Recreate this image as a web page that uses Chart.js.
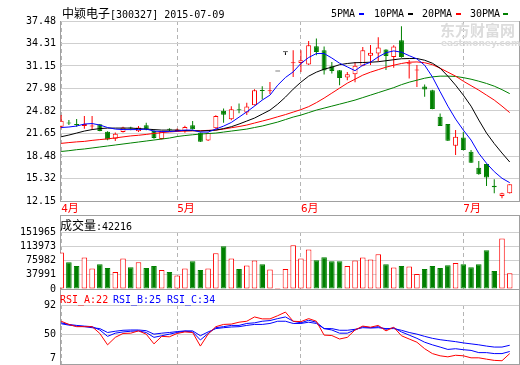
<!DOCTYPE html>
<html>
<head>
<meta charset="utf-8">
<script src="https://cdn.jsdelivr.net/npm/chart.js@4"></script>
<style>
  body { margin: 0; background: #fff; width: 520px; height: 365px; overflow: hidden; position: relative;
         font-family: "DejaVu Sans Mono", monospace; }
  canvas { position: absolute; left: 0; }
  .t { position: absolute; white-space: nowrap; font-size: 10px; line-height: 12px; color: #000; }
  .cn { font-family: "Noto Sans CJK SC", sans-serif; font-size: 12px; }
  .dash { position: absolute; width: 5px; height: 2px; top: 13px; }
  .frame { position: absolute; left: 60px; width: 460px; box-sizing: border-box;
           border: 1px solid #a0a0a0; border-bottom: none; }
  .wm { position: absolute; color: #dcdcdc; white-space: nowrap; font-weight: bold; }
</style>
</head>
<body>
<canvas id="main" width="520" height="216" style="top:0"></canvas>
<canvas id="vol" width="520" height="80" style="top:215px"></canvas>
<canvas id="rsi" width="520" height="76" style="top:289px"></canvas>

<div class="frame" style="top:215px;height:17px"></div>
<div class="frame" style="top:289px;height:16px"></div>

<div class="wm" style="left:440px;top:21px;font-family:'Noto Sans CJK SC';font-size:15px;line-height:17px">东方财富网</div>
<div class="wm" style="left:441px;top:38px;font-family:'DejaVu Sans';font-size:9px;line-height:10px">eastmoney.com</div>

<div class="t" style="left:62px;top:7px"><span class="cn">中颖电子</span>[300327] 2015-07-09</div>
<div class="t" style="left:331px;top:8px">5PMA</div><div class="dash" style="left:359px;background:#0000ff"></div>
<div class="t" style="left:374px;top:8px">10PMA</div><div class="dash" style="left:408px;background:#000"></div>
<div class="t" style="left:422px;top:8px">20PMA</div><div class="dash" style="left:456px;background:#ff0000"></div>
<div class="t" style="left:470px;top:8px">30PMA</div><div class="dash" style="left:503px;background:#008000"></div>

<div class="t" style="left:60px;top:219px"><span class="cn">成交量</span>:42216</div>
<div class="t" style="left:60px;top:294px;color:#ff0000">RSI_A:22</div>
<div class="t" style="left:113px;top:294px;color:#0000ff">RSI_B:25</div>
<div class="t" style="left:167px;top:294px;color:#0000ff">RSI_C:34</div>

<script>
// month markers (index of first bar in each month)
var months = ['4月', '5月', '6月', '7月'];
var monthStart = [0, 15, 31, 52];

// tick labels
var priceTicks = [12.15, 15.32, 18.48, 21.65, 24.82, 27.98, 31.15, 34.31, 37.48];
var volTicks = [0, 37991, 75982, 113973, 151965];
var rsiTicks = [7, 50, 92];

// daily candles
var open = [22.60, 23.10, 22.88, 22.70, 22.65, 22.95, 21.90, 20.90, 21.85, 22.40,
            21.95, 22.80, 21.99, 20.87, 22.22, 21.92, 21.95, 22.80, 21.75, 20.68,
            22.37, 24.85, 23.64, 24.96, 24.60, 25.64, 27.70, 27.58, 30.38, 33.10,
            31.55, 31.58, 31.36, 33.93, 33.37, 31.12, 30.56, 29.53, 29.99, 31.19,
            32.60, 32.90, 33.46, 32.43, 34.77, 31.40, 30.50, 28.25, 27.75, 24.00,
            22.98, 19.93, 21.10, 19.09, 16.84, 17.36, 14.31, 12.87, 13.25];
var high = [24.24, 23.54, 23.70, 24.10, 24.10, 23.00, 21.95, 21.80, 22.60, 22.60,
            22.70, 23.16, 22.10, 21.95, 22.40, 22.35, 22.75, 23.40, 21.80, 21.80,
            24.20, 25.18, 25.50, 25.88, 25.97, 27.89, 28.30, 28.90, 30.38, 33.10,
            33.37, 33.37, 34.67, 35.00, 33.90, 31.72, 30.60, 30.32, 31.70, 33.83,
            34.10, 35.20, 33.50, 34.07, 36.73, 32.00, 31.30, 28.55, 27.80, 24.48,
            23.00, 22.14, 21.90, 19.33, 17.78, 17.40, 15.21, 13.30, 14.50];
var low = [22.40, 22.84, 22.60, 22.30, 22.20, 21.95, 20.70, 20.60, 21.80, 22.10,
           21.85, 22.10, 20.90, 20.80, 21.90, 21.85, 21.75, 22.20, 20.45, 20.60,
           22.30, 23.16, 23.50, 24.50, 24.24, 25.60, 26.44, 27.20, 30.38, 32.70,
           29.60, 30.30, 31.30, 32.66, 29.95, 30.09, 28.45, 29.15, 28.85, 31.10,
           31.30, 31.80, 30.60, 30.90, 32.30, 29.40, 28.20, 26.81, 25.05, 22.70,
           20.60, 18.62, 19.30, 17.50, 15.85, 14.27, 13.25, 12.55, 13.20];
var close = [23.44, 23.05, 22.84, 22.98, 22.72, 22.00, 20.80, 21.60, 22.48, 22.34,
             22.50, 22.22, 21.02, 21.90, 22.18, 22.20, 22.55, 22.25, 20.50, 21.72,
             24.10, 24.30, 25.06, 24.92, 25.45, 27.75, 27.62, 27.62, 30.38, 33.10,
             31.60, 31.96, 34.07, 33.13, 30.50, 30.44, 29.46, 29.99, 31.19, 33.37,
             33.02, 33.74, 32.55, 33.88, 32.43, 31.45, 30.56, 27.85, 25.10, 22.72,
             20.63, 21.19, 19.33, 17.55, 15.91, 15.44, 14.09, 13.25, 14.50];

// moving averages
var ma5 = [22.49, 22.56, 22.70, 22.98, 23.05, 22.84, 22.49, 22.27, 22.20, 22.20,
           22.20, 22.27, 21.99, 21.92, 21.92, 21.99, 22.13, 22.13, 21.85, 21.85,
           22.27, 22.69, 23.20, 23.95, 24.70, 25.50, 26.35, 27.05, 28.45, 29.53,
           30.32, 31.50, 32.34, 32.90, 32.90, 32.27, 31.54, 31.02, 30.49, 31.26,
           31.68, 32.43, 33.02, 33.27, 33.09, 32.60, 32.15, 31.26, 29.62, 27.54,
           25.50, 23.68, 22.13, 20.73, 18.86, 17.46, 16.28, 15.35, 14.73];
var ma10 = [21.19, 21.43, 21.71, 21.99, 22.20, 22.34, 22.41, 22.41, 22.41, 22.41,
            22.34, 22.27, 22.20, 22.13, 22.13, 22.13, 22.06, 22.06, 21.99, 22.06,
            22.13, 22.34, 22.60, 22.98, 23.40, 23.82, 24.38, 24.94, 25.78, 26.77,
            27.89, 28.87, 29.72, 30.28, 30.70, 30.98, 31.33, 31.50, 31.61, 31.64,
            31.68, 31.75, 31.89, 32.03, 32.17, 32.20, 32.20, 31.96, 31.54, 30.84,
            29.72, 28.45, 27.05, 25.50, 23.54, 21.71, 20.23, 18.90, 17.64];
var ma20 = [20.26, 20.37, 20.47, 20.54, 20.68, 20.79, 20.89, 21.03, 21.17, 21.31,
            21.40, 21.52, 21.66, 21.77, 21.87, 21.94, 21.99, 22.02, 22.04, 22.09,
            22.13, 22.27, 22.46, 22.63, 22.84, 23.12, 23.40, 23.68, 24.00, 24.31,
            24.66, 25.01, 25.43, 25.99, 26.63, 27.33, 28.03, 28.73, 29.29, 29.86,
            30.28, 30.63, 30.98, 31.26, 31.50, 31.68, 31.72, 31.61, 31.33, 30.84,
            30.28, 29.72, 29.01, 28.38, 27.75, 27.05, 26.35, 25.50, 24.59];
var ma30 = [19.12, 19.23, 19.37, 19.47, 19.61, 19.75, 19.89, 20.03, 20.17, 20.31,
            20.45, 20.59, 20.73, 20.87, 21.01, 21.22, 21.36, 21.47, 21.57, 21.64,
            21.71, 21.85, 21.99, 22.13, 22.27, 22.49, 22.70, 22.98, 23.26, 23.61,
            23.96, 24.24, 24.59, 24.94, 25.22, 25.50, 25.78, 26.06, 26.35, 26.70,
            27.05, 27.40, 27.75, 28.10, 28.52, 28.87, 29.15, 29.43, 29.62, 29.72,
            29.72, 29.68, 29.51, 29.29, 29.01, 28.69, 28.31, 27.82, 27.26];

// volume
var volume = [97200, 71600, 61000, 84000, 54800, 66300, 55700, 45100, 81300, 58300,
              71600, 55700, 61000, 50400, 45100, 36200, 54800, 74300, 50400, 54800,
              95500, 114000, 81300, 53000, 62800, 76000, 66300, 52200, 1800, 53000,
              116700, 81300, 105200, 76900, 84900, 74300, 74300, 61000, 76000, 84000,
              78700, 92800, 66300, 57500, 61000, 60100, 39800, 53000, 61000, 55700,
              63600, 69000, 66300, 58300, 66300, 103400, 47700, 134400, 42216];

// RSI
var rsiA = [68.6, 64, 60.8, 60.8, 60.8, 51, 34.6, 45.4, 51, 51.4,
            54.7, 50, 36, 46.8, 46.2, 51, 53.2, 52.4, 32.8, 50,
            60.8, 64, 64.5, 67.2, 68.6, 74.8, 72, 72, 76.6, 81.8,
            68.6, 68, 72.4, 68.6, 48.6, 48, 43, 45.4, 56, 61.6,
            60, 62.6, 54.7, 60, 47.7, 43, 38.4, 29, 22, 18.8,
            17.3, 19.6, 18.8, 15.9, 15.9, 14, 12.2, 11.7, 22];
var rsiB = [66.3, 64, 62.6, 61.6, 60.8, 56, 46.8, 51.4, 53.2, 54.2,
            54.7, 52.4, 45.4, 47.7, 50, 52.4, 54.2, 53.2, 41.6, 51,
            59.3, 60.8, 62.6, 62.6, 65.4, 66.3, 68.6, 69.6, 72.4, 74.8,
            68.6, 66.3, 70, 67.2, 58, 56, 51.4, 51.4, 56, 60.8,
            59.3, 60.8, 57, 59.3, 53.2, 48.6, 44, 38.4, 34.6, 31.4,
            28, 29, 27.6, 26.6, 23.4, 23.4, 22, 22, 25];
var rsiC = [65, 63, 61.6, 60.8, 59.3, 58, 52.4, 54.2, 55.6, 56,
            56, 55, 50, 51.4, 52.4, 53.7, 54.7, 54.7, 47.7, 53.2,
            58, 59.3, 60.3, 60.8, 62.6, 64, 64, 65.4, 68.6, 68.6,
            65.4, 65.4, 67.2, 65.4, 58, 58, 55.6, 55.6, 57, 59.3,
            58.8, 59.3, 58, 58, 55.6, 52.4, 50, 46.8, 44, 42,
            40.6, 39.2, 37.4, 36, 34.6, 32.8, 31.4, 31.4, 34];

var RED = '#ff0000', GREEN = '#008000', BLUE = '#0000ff', BLACK = '#000000';
var GRID = '#cfcfcf', AXIS = '#a0a0a0';
var tickFont = { family: '"DejaVu Sans Mono", monospace', size: 10 };
var idx = close.map(function (_, i) { return i; });

function candleColor(i) {
    if (close[i] > open[i]) return RED;
    if (close[i] < open[i]) return GREEN;
    return BLACK;
}
function pts(arr) { return arr.map(function (v, i) { return { x: i, y: v }; }); }
function line(arr, color) {
    return { type: 'line', data: pts(arr), borderColor: color, borderWidth: 1,
             pointRadius: 0, tension: 0 };
}

// shared x axis: month lines dashed, labels only on main chart
function xAxis(showLabels) {
    return {
        type: 'linear', min: -0.15, max: 59.2, offset: false,
        afterBuildTicks: function (s) { s.ticks = monthStart.map(function (v) { return { value: v }; }); },
        ticks: {
            display: showLabels, autoSkip: false, maxRotation: 0, align: 'start', padding: 2,
            color: RED, font: { family: '"DejaVu Sans Mono", "Noto Sans CJK SC"', size: 11 },
            callback: function (v) { return months[monthStart.indexOf(v)]; }
        },
        grid: { color: '#b4b4b4', lineWidth: 1, drawTicks: false, offset: false },
        border: { display: true, color: AXIS, dash: [4, 3] },
        afterFit: function (s) {
            s.height = showLabels ? 15 : 0;
            s.paddingLeft = 0; s.paddingRight = 0;
        }
    };
}
function yAxis(min, max, tickList, fmt) {
    return {
        type: 'linear', position: 'left', min: min, max: max,
        afterBuildTicks: function (s) { s.ticks = tickList.map(function (v) { return { value: v }; }); },
        ticks: { color: BLACK, font: tickFont, padding: 4, autoSkip: false, callback: fmt },
        grid: { color: GRID, drawTicks: false },
        border: { color: AXIS },
        afterFit: function (s) { s.width = 60; s.paddingTop = 0; s.paddingBottom = 0; }
    };
}
var rightEdge = {
    type: 'linear', position: 'right', display: true,
    ticks: { display: false }, grid: { drawOnChartArea: false, drawTicks: false },
    border: { color: AXIS },
    afterFit: function (s) { s.width = 1; }
};
var common = {
    responsive: false, animation: false, events: [],
    plugins: { legend: { display: false }, tooltip: { enabled: false } }
};

// price panel
new Chart(document.getElementById('main'), {
    type: 'bar',
    data: {
        datasets: [
            line(ma5, BLUE), line(ma10, BLACK), line(ma20, RED), line(ma30, GREEN),
            {
                data: idx.map(function (i) { return { x: i, y: [open[i], close[i]] }; }),
                backgroundColor: idx.map(function (i) { return close[i] > open[i] ? '#ffffff' : candleColor(i); }),
                borderColor: idx.map(candleColor),
                borderWidth: 1, borderSkipped: false, grouped: false,
                maxBarThickness: 5, minBarLength: 1
            },
            {
                data: idx.map(function (i) { return { x: i, y: [low[i], high[i]] }; }),
                backgroundColor: idx.map(candleColor),
                borderWidth: 0, grouped: false, maxBarThickness: 1
            }
        ]
    },
    options: Object.assign({}, common, {
        layout: { padding: { top: 21, left: 0, right: 0, bottom: 0 } },
        scales: {
            x: xAxis(true),
            y: yAxis(12.15, 37.48, priceTicks, function (v) { return v.toFixed(2); }),
            yr: rightEdge
        }
    })
});

// volume panel
new Chart(document.getElementById('vol'), {
    type: 'bar',
    data: {
        datasets: [{
            data: idx.map(function (i) { return { x: i, y: volume[i] }; }),
            backgroundColor: idx.map(function (i) { return close[i] >= open[i] ? '#ffffff' : GREEN; }),
            borderColor: idx.map(function (i) { return close[i] >= open[i] ? RED : GREEN; }),
            borderWidth: 1, borderSkipped: false, grouped: false,
            maxBarThickness: 6, minBarLength: 1
        }]
    },
    options: Object.assign({}, common, {
        layout: { padding: { top: 17, left: 0, right: 0, bottom: 6 } },
        scales: {
            x: xAxis(false),
            y: yAxis(0, 151965, volTicks, function (v) { return String(v); }),
            yr: rightEdge
        }
    })
});

// RSI panel
new Chart(document.getElementById('rsi'), {
    type: 'line',
    data: { datasets: [line(rsiA, RED), line(rsiB, BLUE), line(rsiC, BLUE)] },
    options: Object.assign({}, common, {
        layout: { padding: { top: 16, left: 0, right: 0, bottom: 1 } },
        scales: {
            x: xAxis(false),
            y: yAxis(7, 92, rsiTicks, function (v) { return v === 7 ? ['7', ''] : String(v); }),
            yr: rightEdge
        }
    })
});
</script>
</body>
</html>
